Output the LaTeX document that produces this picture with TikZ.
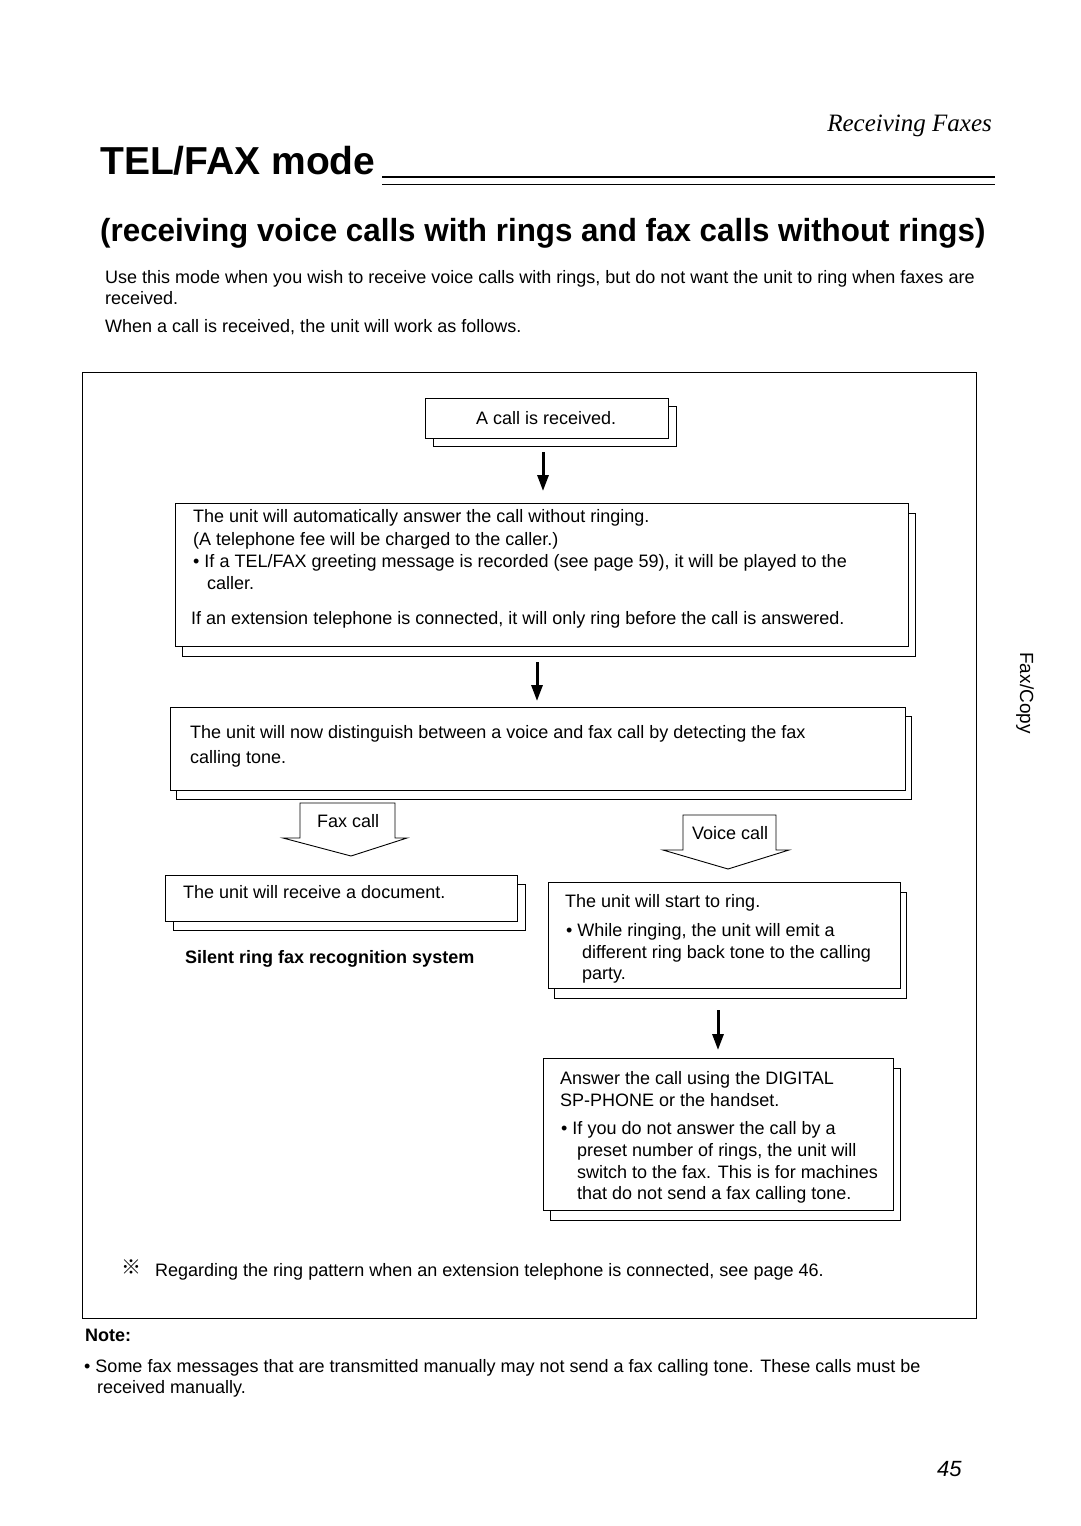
\documentclass[tikz,border=0pt]{standalone}
\usepackage{fontspec}
\setmainfont{Liberation Sans}
\newfontfamily\serifit{Liberation Serif}
\newfontfamily\cjkfont{Noto Sans CJK JP}
\usetikzlibrary{arrows.meta}
\begin{document}
\begin{tikzpicture}[x=1pt,y=-1pt,
  box/.style={draw, line width=0.9pt, fill=white, inner sep=0pt, anchor=north west},
  shad/.style={draw, line width=0.9pt, inner sep=0pt, anchor=north west},
  txt/.style={anchor=base west, inner sep=0pt, font=\fontsize{18}{21}\selectfont},
  btxt/.style={anchor=base west, inner sep=0pt, font=\fontsize{18}{21}\selectfont\bfseries},
  darrow/.style={line width=3pt, -{Triangle[length=16pt,width=11pt]}},
  blockarrow/.style={draw, line width=0.9pt, fill=white, line join=miter},
  frame/.style={draw, line width=0.9pt}]
\useasboundingbox (0,0) rectangle (1080,1526);
\fill[white] (0,0) rectangle (1080,1526);

% header
\node[anchor=base east, inner sep=0pt, font=\serifit\itshape\fontsize{25}{30}\selectfont] (hdr) at (992,131) {Receiving Faxes};
\node[anchor=base west, inner sep=0pt, font=\fontsize{39}{46}\selectfont\bfseries] (title) at (100,174) {TEL/FAX mode};
\coordinate (rule1) at (382,177);
\coordinate (rule2) at (995,177);
\draw[line width=2.6pt] (rule1) -- (rule2);
\draw[line width=0.8pt] ([yshift=-7pt]rule1) -- ([yshift=-7pt]rule2);
\node[anchor=base west, inner sep=0pt, font=\fontsize{32}{38}\selectfont\bfseries] (sub) at (100,241) {\scalebox{0.98}[1]{(receiving voice calls with rings and fax calls without rings)}};

\node[txt] (p1) at (105,283) {Use this mode when you wish to receive voice calls with rings, but do not want the unit to ring when faxes are};
\node[txt] (p2) at (105,304) {received.};
\node[txt] (p3) at (105,332) {When a call is received, the unit will work as follows.};

% outer frame
\draw[frame] (82,372) rectangle (976,1318);

% box 1
\node[shad, minimum width=243pt, minimum height=40pt] (b1s) at (433,406) {};
\node[box, minimum width=243pt, minimum height=40pt] (b1) at (425,398) {};
\node[txt] (t1) at (476,424) {A call is received.};

% box 2
\node[shad, minimum width=733pt, minimum height=143pt] (b2s) at (182,513) {};
\node[box, minimum width=733pt, minimum height=143pt] (b2) at (175,503) {};
\node[txt] (t2a) at (193,522) {The unit will automatically answer the call without ringing.};
\node[txt] (t2b) at (193,545) {(A telephone fee will be charged to the caller.)};
\node[txt] (t2c) at (193,567) {\textbullet\ If a TEL/FAX greeting message is recorded (see page 59), it will be played to the};
\node[txt] (t2d) at (207,589) {caller.};
\node[txt] (t2e) at (191,624) {If an extension telephone is connected, it will only ring before the call is answered.};

% box 3
\node[shad, minimum width=735pt, minimum height=83pt] (b3s) at (176,716) {};
\node[box, minimum width=735pt, minimum height=83pt] (b3) at (170,707) {};
\node[txt] (t3a) at (190,738) {The unit will now distinguish between a voice and fax call by detecting the fax};
\node[txt] (t3b) at (190,763) {calling tone.};

% arrows
\coordinate (a1) at (543,452);
\draw[darrow, shorten >=12pt] (a1) -- (a1 |- b2.north);
\coordinate (a2) at (537,662);
\draw[darrow, shorten >=6pt] (a2) -- (a2 |- b3.north);

% fax call block arrow
\draw[blockarrow] (300,838) -- (300,803) -- (395,803) -- (395,838) -- (407,838) -- (351,856) -- (283,838) -- cycle;
\node[txt] (fax) at (317,827) {Fax call};
% voice call block arrow
\draw[blockarrow] (683,850) -- (683,815) -- (776,815) -- (776,850) -- (789,850) -- (728,869) -- (663,850) -- cycle;
\node[txt] (voice) at (692,839) {Voice call};

% box 4 fax
\node[shad, minimum width=352pt, minimum height=46pt] (b4s) at (173,884) {};
\node[box, minimum width=352pt, minimum height=46pt] (b4) at (165,875) {};
\node[txt] (t4) at (183,898) {The unit will receive a document.};
\node[btxt] (silent) at (185,963) {Silent ring fax recognition system};

% box 5 voice
\node[shad, minimum width=352pt, minimum height=106pt] (b5s) at (554,892) {};
\node[box, minimum width=352pt, minimum height=106pt] (b5) at (548,882) {};
\node[txt] (t5a) at (565,907) {The unit will start to ring.};
\node[txt] (t5b) at (566,936) {\textbullet\ While ringing, the unit will emit a};
\node[txt] (t5c) at (582,958) {different ring back tone to the calling};
\node[txt] (t5d) at (582,979) {party.};

% box 6
\node[shad, minimum width=350pt, minimum height=152pt] (b6s) at (550,1068) {};
\node[box, minimum width=350pt, minimum height=152pt] (b6) at (543,1058) {};
\node[txt] (t6a) at (560,1084) {Answer the call using the DIGITAL};
\node[txt] (t6b) at (560,1106) {SP-PHONE or the handset.};
\node[txt] (t6c) at (561,1134) {\textbullet\ If you do not answer the call by a};
\node[txt] (t6d) at (577,1156) {preset number of rings, the unit will};
\node[txt] (t6e) at (577,1178) {switch to the fax. This is for machines};
\node[txt] (t6f) at (577,1199) {that do not send a fax calling tone.};

\coordinate (a3) at (718,1010);
\draw[darrow, shorten >=8pt] (a3) -- (a3 |- b6.north);

% footnote
\node[anchor=base west, inner sep=0pt, font=\cjkfont\fontsize{20}{22}\selectfont] (ref) at (121,1274) {※};
\node[txt] (foot) at (155,1276) {Regarding the ring pattern when an extension telephone is connected, see page 46.};

% note
\node[btxt] (note) at (85,1341) {Note:};
\node[txt] (n1) at (84,1372) {\textbullet\ Some fax messages that are transmitted manually may not send a fax calling tone. These calls must be};
\node[txt] (n2) at (97,1393) {received manually.};

% page number and side tab
\node[anchor=base west, inner sep=0pt, font=\fontsize{22}{26}\selectfont\itshape] (pg) at (937,1476) {45};
\node[inner sep=0pt, rotate=-90, font=\fontsize{19}{22}\selectfont] (side) at (1025,693) {Fax/Copy};
\end{tikzpicture}
\end{document}
